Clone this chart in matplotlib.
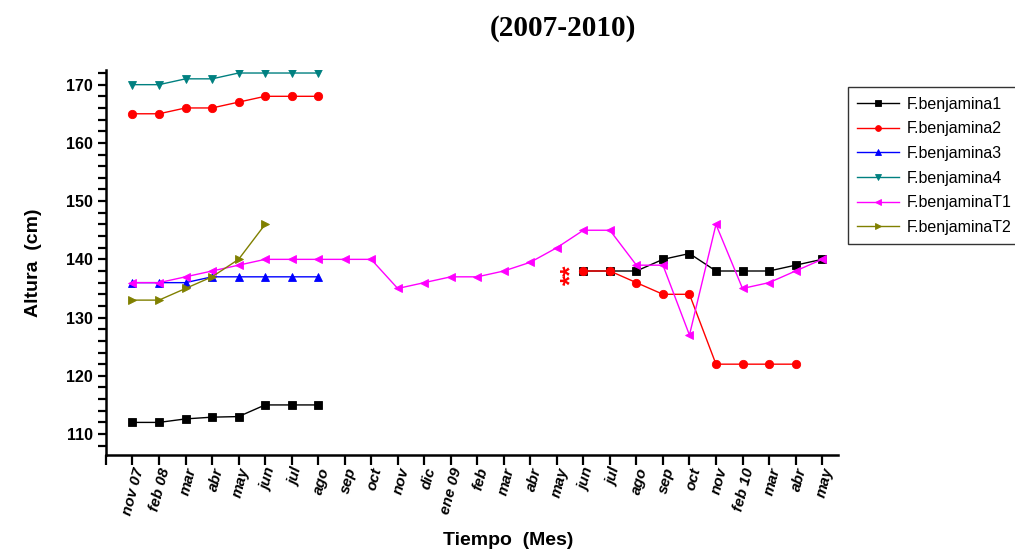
import numpy as np
import matplotlib
matplotlib.use("Agg")
import matplotlib.pyplot as plt
from matplotlib.ticker import MultipleLocator, FixedLocator

nan = np.nan

months = ["nov 07", "feb 08", "mar", "abr", "may", "jun", "jul", "ago", "sep",
          "oct", "nov", "dic", "ene 09", "feb", "mar", "abr", "may", "jun",
          "jul", "ago", "sep", "oct", "nov", "feb 10", "mar", "abr", "may"]

benjamina1 = [112, 112, 112.6, 112.9, 113, 115, 115, 115, nan, nan, nan, nan, nan,
              nan, nan, nan, nan, 138, 138, 138, 140, 141, 138, 138, 138, 139, 140]
benjamina2 = [165, 165, 166, 166, 167, 168, 168, 168, nan, nan, nan, nan, nan,
              nan, nan, nan, nan, 138, 138, 136, 134, 134, 122, 122, 122, 122, nan]
benjamina3 = [136, 136, 136, 137, 137, 137, 137, 137]
benjamina4 = [170, 170, 171, 171, 172, 172, 172, 172]
benjaminaT1 = [136, 136, 137, 138, 139, 140, 140, 140, 140, 140, 135, 136, 137,
               137, 138, 139.5, 142, 145, 145, 139, 139, 127, 146, 135, 136, 138, 140]
benjaminaT2 = [133, 133, 135, 137, 140, 146]

series = [
    ("F.benjamina1", benjamina1, "black", "s"),
    ("F.benjamina2", benjamina2, "red", "o"),
    ("F.benjamina3", benjamina3, "blue", "^"),
    ("F.benjamina4", benjamina4, "#008080", "v"),
    ("F.benjaminaT1", benjaminaT1, "magenta", "<"),
    ("F.benjaminaT2", benjaminaT2, "#808000", ">"),
]

plt.rcParams["font.family"] = ["Liberation Sans", "DejaVu Sans"]

fig = plt.figure(figsize=(10.15, 5.52), dpi=100)
ax = fig.add_axes([0.1044, 0.1757, 0.7212, 0.6973])

for name, vals, color, mk in series:
    x = np.arange(len(vals))
    ax.plot(x, np.array(vals, dtype=float), color=color, lw=1.0, marker=mk,
            markersize=6, markeredgewidth=0.6, label=name)

# significance mark before the second measurement period
ax.text(16.55, 137.4, "**", color="red", fontsize=19, fontweight="bold",
        rotation=90, ha="center", va="center")

ax.set_xlim(-1, 26.6)
ax.set_ylim(106.4, 172.5)

ax.xaxis.set_major_locator(FixedLocator(np.arange(len(months))))
ax.xaxis.set_minor_locator(FixedLocator([-1]))
ax.set_xticklabels(months, rotation=75, ha="right", rotation_mode="anchor",
                   fontsize=11, fontstyle="italic", fontweight="bold")
ax.yaxis.set_major_locator(MultipleLocator(10))
ax.yaxis.set_minor_locator(MultipleLocator(2))
for lbl in ax.get_yticklabels():
    lbl.set_fontweight("bold")
    lbl.set_fontsize(11.5)

ax.tick_params(axis="both", which="both", direction="out", width=1.6, color="black")
ax.tick_params(axis="x", which="both", length=7, pad=1)
ax.tick_params(axis="y", which="both", length=6)

for side in ("top", "right"):
    ax.spines[side].set_visible(False)
for side in ("left", "bottom"):
    ax.spines[side].set_linewidth(1.8)

ax.set_ylabel("Altura  (cm)", fontsize=14, fontweight="bold")
ax.yaxis.set_label_coords(-0.088, 0.5)
ax.set_xlabel("Tiempo  (Mes)", fontsize=14, fontweight="bold", va="center")
ax.xaxis.set_label_coords(0.55, -0.222)

fig.text(0.555, 0.948, "(2007-2010)", ha="center", va="center", fontsize=21,
         fontweight="bold", family=["Liberation Serif", "DejaVu Serif"])

leg = fig.legend(loc="upper left", bbox_to_anchor=(0.835, 0.842), fontsize=11.5,
                 frameon=True, fancybox=False, edgecolor="black",
                 labelspacing=0.6, handlelength=2.6, borderpad=0.6,
                 handletextpad=0.5, markerscale=0.7, borderaxespad=0)
leg.get_frame().set_linewidth(1.0)

fig.savefig("out.png", dpi=100)
